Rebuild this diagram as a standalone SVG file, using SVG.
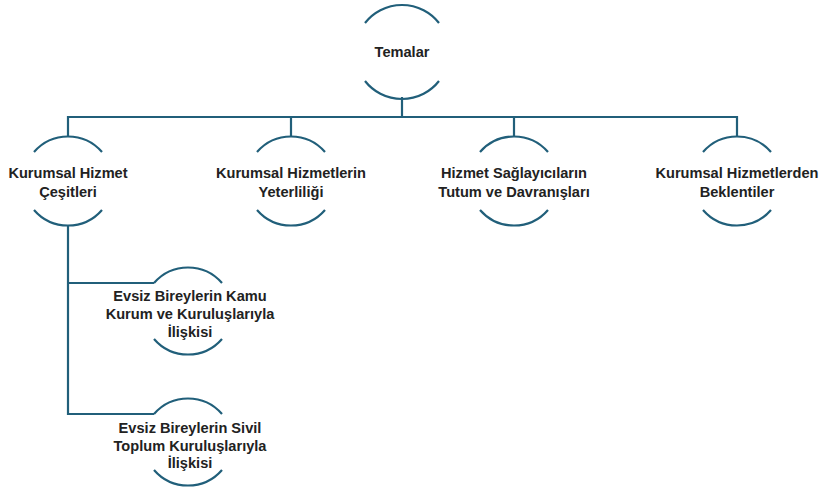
<svg xmlns="http://www.w3.org/2000/svg" width="826" height="488" viewBox="0 0 826 488">
<style>
.arc{fill:none;stroke:#215f7a;stroke-width:2.2}
.con{fill:none;stroke:#215f7a;stroke-width:2.2}
text{font-family:"Liberation Sans",Arial,sans-serif;font-weight:bold;font-size:14.6px;fill:#222;text-anchor:middle;dominant-baseline:central}
</style>
<rect width="826" height="488" fill="#fff"/>
<g id="connectors">
<path class="con" d="M402,97 V117 M68,136 V117 H737 V136 M291,117 V136 M514,117 V136 M68,226 V414 H154 M68,283 H154"/>
</g>
<g id="temalar">
<path class="arc" d="M365,23 A47,47 0 0 1 439,23 M365,81 A47,47 0 0 0 439,81"/>
<text x="402" y="52">Temalar</text>
</g>
<g id="n1">
<path class="arc" d="M34,152 A45,45 0 0 1 102,152 M34,210 A45,45 0 0 0 102,210"/>
<text x="68" y="173">Kurumsal Hizmet</text>
<text x="68" y="192">Çeşitleri</text>
</g>
<g id="n2">
<path class="arc" d="M257,152 A45,45 0 0 1 325,152 M257,210 A45,45 0 0 0 325,210"/>
<text x="291" y="173">Kurumsal Hizmetlerin</text>
<text x="291" y="192">Yeterliliği</text>
</g>
<g id="n3">
<path class="arc" d="M480,152 A45,45 0 0 1 548,152 M480,210 A45,45 0 0 0 548,210"/>
<text x="514" y="173">Hizmet Sağlayıcıların</text>
<text x="514" y="192">Tutum ve Davranışları</text>
</g>
<g id="n4">
<path class="arc" d="M703,152 A45,45 0 0 1 771,152 M703,210 A45,45 0 0 0 771,210"/>
<text x="737" y="173">Kurumsal Hizmetlerden</text>
<text x="737" y="192">Beklentiler</text>
</g>
<g id="c1">
<path class="arc" d="M154,283 A45,45 0 0 1 222,283 M154,339 A45,45 0 0 0 222,339"/>
<text x="190" y="296">Evsiz Bireylerin Kamu</text>
<text x="190" y="314">Kurum ve Kuruluşlarıyla</text>
<text x="190" y="332">İlişkisi</text>
</g>
<g id="c2">
<path class="arc" d="M154,414 A45,45 0 0 1 222,414 M154,470 A45,45 0 0 0 222,470"/>
<text x="190" y="428">Evsiz Bireylerin Sivil</text>
<text x="190" y="446">Toplum Kuruluşlarıyla</text>
<text x="190" y="463">İlişkisi</text>
</g>
</svg>
